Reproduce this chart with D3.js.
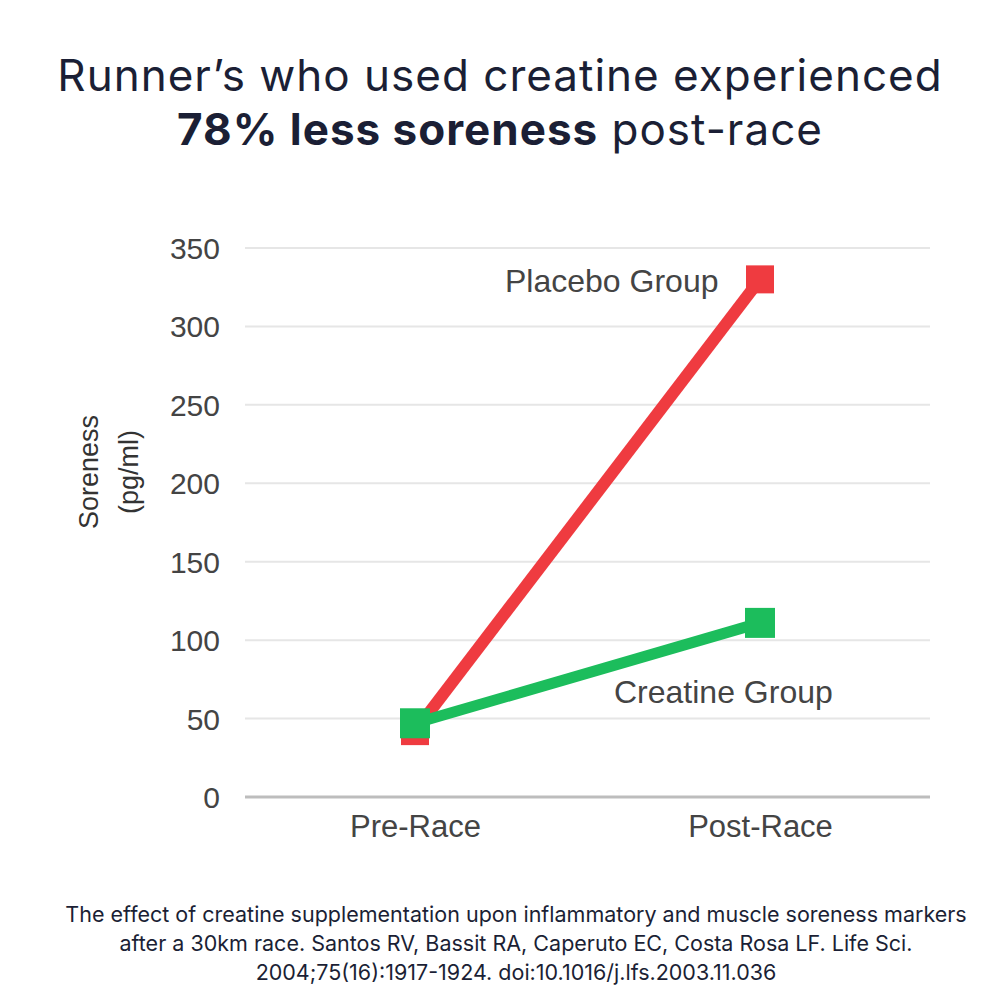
<!DOCTYPE html>
<html>
<head>
<meta charset="utf-8">
<script src="https://cdn.jsdelivr.net/npm/d3@7"></script>
<style>
  body { margin: 0; background: #fff; }
  svg { display: block; }
</style>
</head>
<body>
<div id="chart"></div>
<script>
const phases = ["Pre-Race", "Post-Race"]
const placebo = [42, 330]
const creatine = [47, 111]
const yTicks = [0, 50, 100, 150, 200, 250, 300, 350]
const caption = [
  "The effect of creatine supplementation upon inflammatory and muscle soreness markers",
  "after a 30km race. Santos RV, Bassit RA, Caperuto EC, Costa Rosa LF. Life Sci.",
  "2004;75(16):1917-1924. doi:10.1016/j.lfs.2003.11.036"
]

const svg = d3.select("#chart").append("svg")
  .attr("width", 1000).attr("height", 1000)

// title, one text block with two lines
const navy = "#1b1f35"
const title = svg.append("text")
  .attr("text-anchor", "middle")
  .attr("font-family", "Inter, 'Noto Sans', sans-serif")
  .attr("font-size", 44).attr("letter-spacing", 1).attr("fill", navy)
title.append("tspan").attr("x", 500).attr("y", 91)
  .text("Runner\u2019s who used creatine experienced")
title.append("tspan").attr("x", 500).attr("y", 145)
  .attr("font-weight", 700).text("78% less soreness")
title.append("tspan").text(" post-race")

const x = d3.scalePoint().domain(phases).range([415, 760])
const y = d3.scaleLinear().domain([0, 350]).range([797, 248])

// grid
const grid = svg.append("g")
grid.selectAll("line").data(yTicks).join("line")
  .attr("x1", 245).attr("x2", 930)
  .attr("y1", d => y(d)).attr("y2", d => y(d))
  .attr("stroke", d => d === 0 ? "#bdbdbd" : "#e6e6e6")
  .attr("stroke-width", d => d === 0 ? 3 : 2)

// y axis labels
const yAxis = svg.append("g")
  .attr("transform", "translate(220,0)")
  .call(d3.axisLeft(y).tickValues(yTicks).tickSize(0).tickPadding(0))
yAxis.select(".domain").remove()
yAxis.selectAll("text")
  .attr("font-family", "'Liberation Sans', Arial, sans-serif")
  .attr("font-size", 30).attr("fill", "#444").attr("dy", "0.35em")

// x axis labels
const xAxis = svg.append("g")
  .attr("transform", "translate(0,812)")
  .call(d3.axisBottom(x).tickSize(0).tickPadding(0))
xAxis.select(".domain").remove()
xAxis.selectAll("text")
  .attr("font-family", "'Liberation Sans', Arial, sans-serif")
  .attr("font-size", 31).attr("fill", "#444").attr("dy", "0.8em")

// axis title
const at = svg.append("text")
  .attr("transform", "translate(98,472) rotate(-90)")
  .attr("text-anchor", "middle")
  .attr("font-family", "'Liberation Sans', Arial, sans-serif")
  .attr("font-size", 27).attr("fill", "#333")
at.append("tspan").attr("x", 0).attr("y", 0).text("Soreness")
at.append("tspan").attr("x", 0).attr("y", 40).text("(pg/ml)")

const line = d3.line().x((d, i) => x(phases[i])).y(d => y(d))

function series(vals, color, w, size) {
  svg.append("path").datum(vals)
    .attr("d", line).attr("fill", "none")
    .attr("stroke", color).attr("stroke-width", w)
  svg.selectAll(null).data(vals).join("rect")
    .attr("x", (d, i) => x(phases[i]) - size / 2)
    .attr("y", d => y(d) - size / 2)
    .attr("width", size).attr("height", size)
    .attr("fill", color)
}
series(placebo, "#ef3b40", 12, 28)
series(creatine, "#1cbd5c", 11, 30)

// series labels
svg.append("text").attr("x", 505).attr("y", 292)
  .attr("font-family", "'Liberation Sans', Arial, sans-serif")
  .attr("font-size", 32).attr("fill", "#444").text("Placebo Group")
svg.append("text").attr("x", 614).attr("y", 703)
  .attr("font-family", "'Liberation Sans', Arial, sans-serif")
  .attr("font-size", 32).attr("fill", "#444").text("Creatine Group")

// caption
svg.append("g").selectAll("text").data(caption).join("text")
  .attr("x", 516).attr("y", (d, i) => 922 + i * 29)
  .attr("text-anchor", "middle")
  .attr("font-family", "Inter, 'Noto Sans', sans-serif")
  .attr("font-size", 21.5).attr("fill", navy)
  .text(d => d)
</script>
</body>
</html>
